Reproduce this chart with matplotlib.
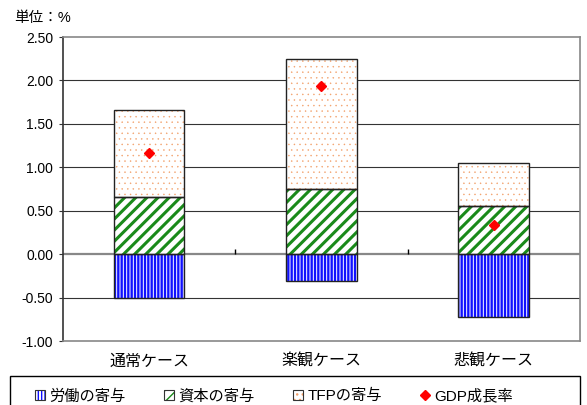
import matplotlib.pyplot as plt
import matplotlib.patches as mpatches
import matplotlib.lines as mlines
import numpy as np

plt.rcParams['font.family'] = ['Liberation Sans', 'Noto Sans CJK JP', 'DejaVu Sans']

cases = ['通常ケース', '楽観ケース', '悲観ケース']
labour = [-0.50, -0.31, -0.72]
capital = [0.66, 0.75, 0.55]
tfp = [1.00, 1.50, 0.50]
gdp = [1.17, 1.94, 0.33]
yticks = [-1.0, -0.5, 0.0, 0.5, 1.0, 1.5, 2.0, 2.5]

# fill styles: (hatch colour, hatch pattern, hatch line width)
styles = {
    'labour': ('#1010ff', '|||||', 1.7),
    'capital': ('#1a8a1a', '///', 2.2),
    'tfp': ('#f2a06a', '...', 0.3),
}


def set_hlw(artist, lw):
    if hasattr(artist, 'set_hatch_linewidth'):
        artist.set_hatch_linewidth(lw)


x = np.arange(len(cases))
w = 0.41
tfp_bottom = capital

fig = plt.figure(figsize=(5.87, 4.05), dpi=100)
ax = fig.add_axes([0.1073, 0.158, 0.8807, 0.7506])

# grid behind the bars
for t in yticks[1:-1]:
    if t == 0:
        ax.axhline(t, color='#888888', lw=1.6, zorder=1)
    else:
        ax.axhline(t, color='#333333', lw=0.8, zorder=1)

# hatched fills, outlines drawn separately so the hatch keeps its own colour
for key, vals, bot in [('labour', labour, 0), ('capital', capital, 0), ('tfp', tfp, tfp_bottom)]:
    col, hatch, hlw = styles[key]
    with plt.rc_context({'hatch.linewidth': hlw}):
        bars = ax.bar(x, vals, w, bottom=bot, color='white', edgecolor=col,
                      hatch=hatch, lw=0, zorder=2)
        for b in bars:
            set_hlw(b, hlw)
    ax.bar(x, vals, w, bottom=bot, fill=False, edgecolor='#222222', lw=1.0, zorder=3)

ax.plot(x, gdp, linestyle='none', marker='D', color='red', markersize=5.5, zorder=4)

# category separators on the zero line
ax.vlines([0.5, 1.5], 0, 0.06, color='black', lw=1, zorder=3)

ax.set_xlim(-0.5, 2.5)
ax.set_ylim(-1.0, 2.5)
ax.set_yticks(yticks)
ax.set_yticklabels([f'{t:.2f}' for t in yticks], fontsize=10)
ax.set_xticks(x)
ax.set_xticklabels(cases, fontsize=11.5)
ax.tick_params(axis='x', length=0, pad=9)
ax.tick_params(axis='y', length=3, pad=4, color='#333333')
for s in ax.spines.values():
    s.set_color('#888888')
    s.set_linewidth(1.2)
ax.spines['left'].set_color('#333333')

fig.text(14 / 587, 1 - 18 / 405, '単位：%', fontsize=10.5, va='center', ha='left')

# legend handles: hatched square with a dark outline on top
handles = []
for key in ['labour', 'capital', 'tfp']:
    col, hatch, hlw = styles[key]
    with plt.rc_context({'hatch.linewidth': hlw}):
        p = mpatches.Patch(facecolor='white', edgecolor=col, hatch=hatch, lw=0)
        set_hlw(p, hlw)
    outline = mpatches.Patch(fill=False, edgecolor='#333333', lw=0.8)
    handles.append((p, outline))
handles.append(mlines.Line2D([], [], linestyle='none', marker='D', color='red', markersize=5.5))
labels = ['労働の寄与', '資本の寄与', 'TFPの寄与', 'GDP成長率']

leg = fig.legend(handles, labels, loc='upper left', ncol=4, frameon=False,
                 bbox_to_anchor=(24 / 587, 1 - 378 / 405),
                 fontsize=11, handlelength=0.65, handleheight=0.65, handletextpad=0.3,
                 columnspacing=2.5, borderpad=0.2)
fig.patches.append(mpatches.Rectangle((10 / 587, -0.02), 570 / 587, 0.02 + 1 - 376 / 405,
                                      transform=fig.transFigure, fill=False,
                                      edgecolor='black', lw=1.0))

fig.savefig('out.png', dpi=100)
